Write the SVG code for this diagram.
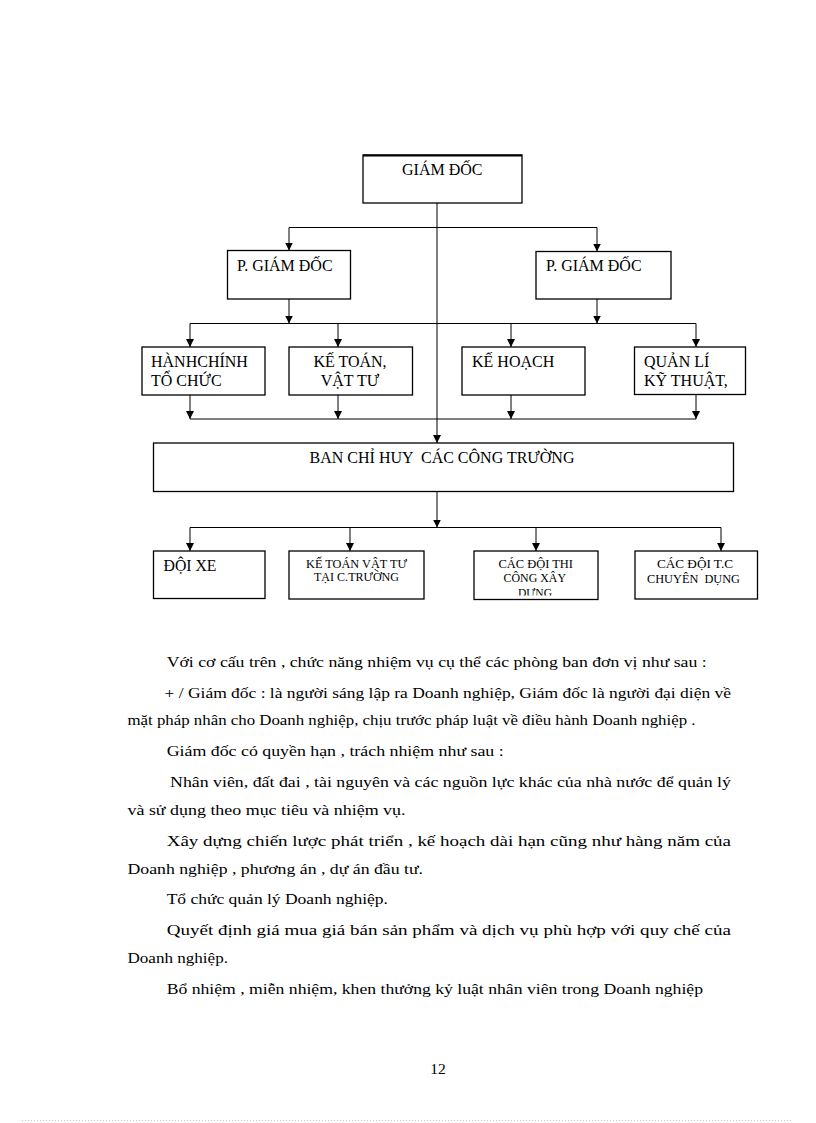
<svg xmlns="http://www.w3.org/2000/svg" width="816" height="1123" viewBox="0 0 816 1123">
<defs>
<style>
.box{fill:#fff;stroke:#000;stroke-width:1.3}
.ln{fill:none;stroke:#000;stroke-width:1}
.ar{fill:none;stroke:#000;stroke-width:1;marker-end:url(#arr)}
.t{font-family:"Liberation Serif","Times New Roman",serif;font-size:16px;fill:#000}
.s{font-family:"Liberation Serif","Times New Roman",serif;font-size:11.5px;fill:#000}
.p{font-family:"Liberation Serif","Times New Roman",serif;font-size:15.5px;fill:#000}
</style>
<marker id="arr" markerUnits="userSpaceOnUse" viewBox="0 0 8 8" markerWidth="8" markerHeight="8" refX="8" refY="4" orient="auto">
<path d="M0,0 L8,4 L0,8 z" fill="#000"/>
</marker>
<clipPath id="clipThi"><rect x="474" y="551" width="124" height="44.5"/></clipPath>
</defs>
<rect width="816" height="1123" fill="#fff"/>

<g id="connectors">
<line class="ar" x1="437" y1="203" x2="437" y2="443"/>
<line class="ln" x1="289" y1="227.5" x2="597" y2="227.5"/>
<line class="ar" x1="289" y1="227.5" x2="289" y2="250.5"/>
<line class="ar" x1="597" y1="227.5" x2="597" y2="251.5"/>
<line class="ar" x1="289" y1="299" x2="289" y2="323.5"/>
<line class="ar" x1="597" y1="299" x2="597" y2="323.5"/>
<line class="ln" x1="190" y1="323.5" x2="696" y2="323.5"/>
<line class="ar" x1="190" y1="323.5" x2="190" y2="347"/>
<line class="ar" x1="338" y1="323.5" x2="338" y2="347"/>
<line class="ar" x1="511" y1="323.5" x2="511" y2="347"/>
<line class="ar" x1="696" y1="323.5" x2="696" y2="347"/>
<line class="ar" x1="190" y1="395" x2="190" y2="419"/>
<line class="ar" x1="338" y1="395" x2="338" y2="419"/>
<line class="ar" x1="511" y1="395" x2="511" y2="419"/>
<line class="ar" x1="696" y1="394.5" x2="696" y2="419"/>
<line class="ln" x1="190" y1="419" x2="696" y2="419"/>
<line class="ar" x1="437" y1="491.5" x2="437" y2="527.5"/>
<line class="ln" x1="190" y1="527.5" x2="721" y2="527.5"/>
<line class="ar" x1="190" y1="527.5" x2="190" y2="551"/>
<line class="ar" x1="350" y1="527.5" x2="350" y2="551"/>
<line class="ar" x1="536" y1="527.5" x2="536" y2="551"/>
<line class="ar" x1="721" y1="527.5" x2="721" y2="551"/>
</g>

<g id="giam-doc">
<rect class="box" x="363" y="155" width="159" height="48"/>
<line x1="363" y1="155.5" x2="522" y2="155.5" stroke="#000" stroke-width="2"/>
<text class="t" x="402" y="175">GIÁM ĐỐC</text>
</g>
<g id="pgd-left">
<rect class="box" x="227.5" y="250.5" width="123" height="48.5"/>
<text class="t" x="237" y="271">P. GIÁM ĐỐC</text>
</g>
<g id="pgd-right">
<rect class="box" x="536" y="251.5" width="135" height="47.5"/>
<text class="t" x="546" y="271">P. GIÁM ĐỐC</text>
</g>
<g id="hanh-chinh">
<rect class="box" x="142" y="347" width="123" height="48"/>
<text class="t" x="151" y="367">HÀNHCHÍNH</text>
<text class="t" x="151" y="385.5">TỔ CHỨC</text>
</g>
<g id="ke-toan">
<rect class="box" x="289" y="347" width="123.5" height="48"/>
<text class="t" x="350" y="367" text-anchor="middle">KẾ TOÁN,</text>
<text class="t" x="350" y="385.5" text-anchor="middle">VẬT TƯ</text>
</g>
<g id="ke-hoach">
<rect class="box" x="462" y="347" width="123" height="48"/>
<text class="t" x="472" y="367">KẾ HOẠCH</text>
</g>
<g id="quan-li">
<rect class="box" x="634.5" y="347" width="111" height="47.5"/>
<text class="t" x="644" y="367">QUẢN LÍ</text>
<text class="t" x="644" y="385.5">KỸ THUẬT,</text>
</g>
<g id="ban-chi-huy">
<rect class="box" x="153.5" y="443" width="580" height="48.5"/>
<text class="t" x="442" y="463" text-anchor="middle" xml:space="preserve">BAN CHỈ HUY  CÁC CÔNG TRƯỜNG</text>
</g>
<g id="doi-xe">
<rect class="box" x="153.5" y="551" width="111.5" height="47.5"/>
<text class="t" x="163.5" y="571" font-size="15" textLength="53" lengthAdjust="spacingAndGlyphs">ĐỘI XE</text>
</g>
<g id="ke-toan-ct">
<rect class="box" x="289" y="551" width="135" height="48"/>
<text class="s" x="306" y="567.5" textLength="101" lengthAdjust="spacingAndGlyphs">KẾ TOÁN VẬT TƯ</text>
<text class="s" x="314" y="581" textLength="85" lengthAdjust="spacingAndGlyphs">TẠI C.TRƯỜNG</text>
</g>
<g id="doi-thi-cong">
<rect class="box" x="474" y="551" width="124" height="48.5"/>
<text class="s" x="498.5" y="568" textLength="74.5" lengthAdjust="spacingAndGlyphs">CÁC ĐỘI THI</text>
<text class="s" x="503.5" y="582" textLength="62.5" lengthAdjust="spacingAndGlyphs">CÔNG XÂY</text>
<g clip-path="url(#clipThi)"><text class="s" x="518" y="596.5" textLength="34" lengthAdjust="spacingAndGlyphs">DỰNG</text></g>
</g>
<g id="doi-chuyen-dung">
<rect class="box" x="635" y="551" width="122.5" height="48"/>
<text class="s" x="657" y="568" textLength="76" lengthAdjust="spacingAndGlyphs">CÁC ĐỘI T.C</text>
<text class="s" x="647" y="582.5" textLength="93" lengthAdjust="spacingAndGlyphs" xml:space="preserve">CHUYÊN  DỤNG</text>
</g>

<g id="body-text">
<text class="p" x="166.7" y="667" textLength="540" lengthAdjust="spacingAndGlyphs">Với cơ cấu trên , chức năng nhiệm vụ cụ thể các phòng ban đơn vị như sau :</text>
<text class="p" x="164.5" y="698" textLength="566.5" lengthAdjust="spacingAndGlyphs">+ / Giám đốc : là người sáng lập ra Doanh nghiệp, Giám đốc là người đại diện về</text>
<text class="p" x="127.5" y="725" textLength="568" lengthAdjust="spacingAndGlyphs">mặt pháp nhân cho Doanh nghiệp, chịu trước pháp luật về điều hành Doanh nghiệp .</text>
<text class="p" x="166.7" y="756" textLength="337" lengthAdjust="spacingAndGlyphs">Giám đốc có quyền hạn , trách nhiệm như sau :</text>
<text class="p" x="170" y="787" textLength="561" lengthAdjust="spacingAndGlyphs">Nhân viên, đất đai , tài nguyên và các nguồn lực khác của nhà nước để quản lý</text>
<text class="p" x="127.5" y="815" textLength="278" lengthAdjust="spacingAndGlyphs">và sử dụng theo mục tiêu và nhiệm vụ.</text>
<text class="p" x="166.7" y="846" textLength="564.3" lengthAdjust="spacingAndGlyphs">Xây dựng chiến lược phát triển , kế hoạch dài hạn cũng như hàng năm của</text>
<text class="p" x="127.5" y="874" textLength="295.5" lengthAdjust="spacingAndGlyphs">Doanh nghiệp , phương án , dự án đầu tư.</text>
<text class="p" x="166.7" y="904" textLength="221.3" lengthAdjust="spacingAndGlyphs">Tổ chức quản lý Doanh nghiệp.</text>
<text class="p" x="166.7" y="935" textLength="564.3" lengthAdjust="spacingAndGlyphs">Quyết định giá mua giá bán sản phẩm và dịch vụ phù hợp với quy chế của</text>
<text class="p" x="127.5" y="963" textLength="100.5" lengthAdjust="spacingAndGlyphs">Doanh nghiệp.</text>
<text class="p" x="166.7" y="994" textLength="536.3" lengthAdjust="spacingAndGlyphs">Bổ nhiệm , miễn nhiệm, khen thưởng kỷ luật nhân viên trong Doanh nghiệp</text>
<text class="p" x="438" y="1074" text-anchor="middle">12</text>
</g>

<line x1="22" y1="1120.5" x2="793" y2="1120.5" stroke="#c8c8c8" stroke-width="1" stroke-dasharray="1,2"/>
</svg>
